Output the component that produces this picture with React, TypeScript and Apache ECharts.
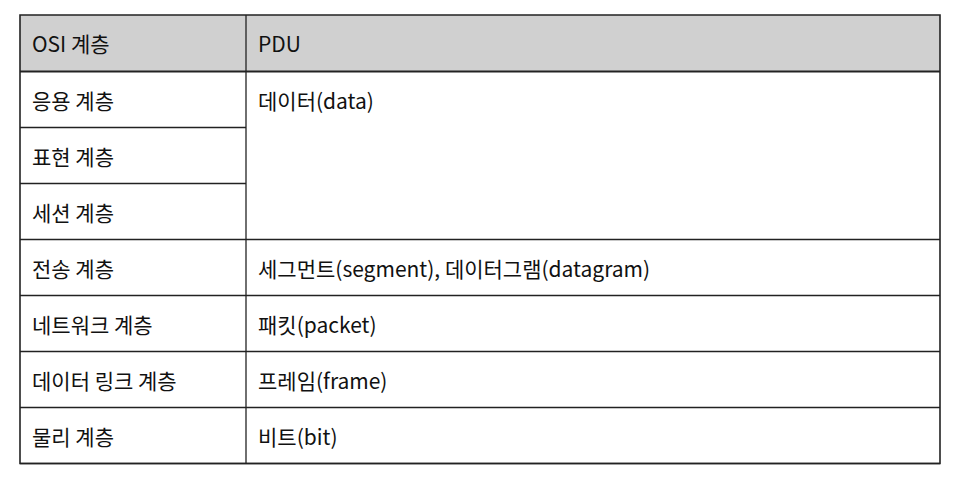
import React, { useEffect, useRef } from "react";
import * as echarts from "echarts";

const headers = ["OSI 계층", "PDU"];
const layers = ["응용 계층", "표현 계층", "세션 계층", "전송 계층", "네트워크 계층", "데이터 링크 계층", "물리 계층"];
// PDU label and how many layer rows it spans
const pdus = ["데이터(data)", "세그먼트(segment), 데이터그램(datagram)", "패킷(packet)", "프레임(frame)", "비트(bit)"];
const pduSpans = [3, 1, 1, 1, 1];

export default function App() {
  const ref = useRef<HTMLDivElement>(null);
  useEffect(() => {
    document.body.style.margin = "0";
    const chart = echarts.init(ref.current!, null, { renderer: "svg" });
    const L = 20, R = 940, T = 15, H = 56.5, C = 246, RH = 56;
    const font = "'Noto Sans CJK KR', 'Noto Sans', sans-serif";
    const tx = (x: number, y: number, t: string) => ({
      type: "text", x, y, style: { text: t, fill: "#111", font: `21px ${font}`, textVerticalAlign: "middle" },
    });
    const ln = (x1: number, y1: number, x2: number, y2: number, w = 1.3) => ({
      type: "line", shape: { x1, y1, x2, y2 }, style: { stroke: "#222", lineWidth: w },
    });
    const els: any[] = [];
    const bottom = T + H + RH * layers.length;
    els.push({ type: "rect", shape: { x: L, y: T, width: R - L, height: H }, style: { fill: "#d0d0d0" } });
    els.push(tx(L + 12, T + H / 2, headers[0]));
    els.push(tx(C + 12, T + H / 2, headers[1]));
    layers.forEach((l, i) => {
      const y = T + H + RH * i;
      els.push(tx(L + 12, y + RH / 2, l));
      els.push(ln(L, y + RH, C, y + RH));
    });
    let row = 0;
    pdus.forEach((p, i) => {
      const y = T + H + RH * row;
      els.push(tx(C + 12, y + RH / 2, p));
      row += pduSpans[i];
      els.push(ln(C, T + H + RH * row, R, T + H + RH * row));
    });
    els.push(ln(L, T + H, R, T + H, 2));
    els.push({ type: "rect", shape: { x: L, y: T, width: R - L, height: bottom - T }, style: { fill: "none", stroke: "#222", lineWidth: 1.6 } });
    els.push(ln(C, T, C, bottom));
    chart.setOption({ animation: false, graphic: { elements: els } });
    return () => chart.dispose();
  }, []);
  return <div ref={ref} style={{ width: 956, height: 480, background: "#fff" }} />;
}
